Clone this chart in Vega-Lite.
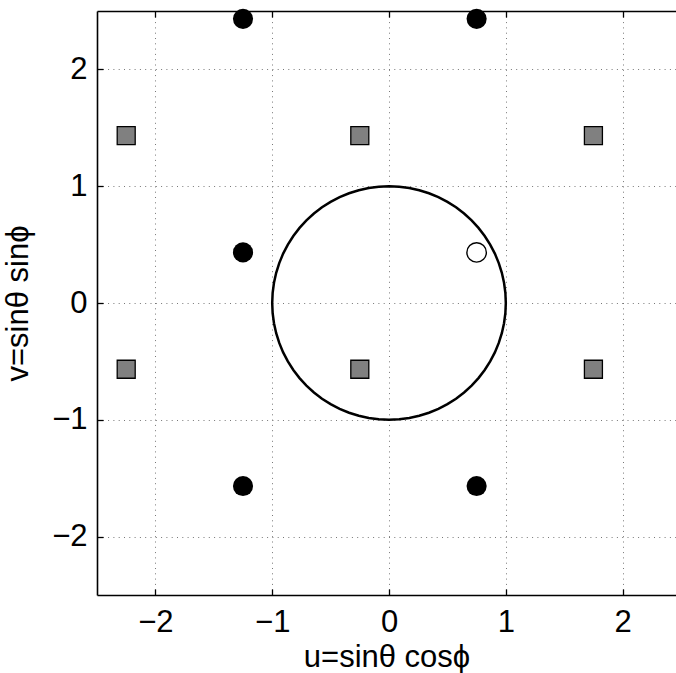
{
  "$schema": "https://vega.github.io/schema/vega-lite/v6.json",
  "width": 579,
  "height": 584,
  "autosize": "none",
  "padding": {"left": 97, "top": 11, "right": 0, "bottom": 78},
  "background": "white",
  "config": {
    "view": {"stroke": null},
    "font": "Liberation Sans",
    "axis": {
      "domainColor": "black",
      "domainWidth": 1.6,
      "tickColor": "black",
      "tickWidth": 1.3,
      "tickSize": -6,
      "labelFont": "Liberation Sans",
      "labelFontSize": 31,
      "labelColor": "black",
      "titleFont": "Liberation Sans",
      "titleFontSize": 31,
      "titleFontWeight": "normal",
      "titleColor": "black",
      "gridColor": "#777777",
      "gridDash": [1, 4.3],
      "gridWidth": 1
    }
  },
  "datasets": {
    "markers": [
      {"u": -1.25, "v": 2.433, "kind": "black"},
      {"u": 0.75, "v": 2.433, "kind": "black"},
      {"u": -1.25, "v": 0.433, "kind": "black"},
      {"u": -1.25, "v": -1.567, "kind": "black"},
      {"u": 0.75, "v": -1.567, "kind": "black"},
      {"u": 0.75, "v": 0.433, "kind": "white"},
      {"u": -2.25, "v": 1.433, "kind": "square"},
      {"u": -0.25, "v": 1.433, "kind": "square"},
      {"u": 1.75, "v": 1.433, "kind": "square"},
      {"u": -2.25, "v": -0.567, "kind": "square"},
      {"u": -0.25, "v": -0.567, "kind": "square"},
      {"u": 1.75, "v": -0.567, "kind": "square"}
    ],
    "circle": [
      {"a": 0, "u": 1, "v": 0},
      {"a": 5, "u": 0.9962, "v": 0.0872},
      {"a": 10, "u": 0.9848, "v": 0.1736},
      {"a": 15, "u": 0.9659, "v": 0.2588},
      {"a": 20, "u": 0.9397, "v": 0.342},
      {"a": 25, "u": 0.9063, "v": 0.4226},
      {"a": 30, "u": 0.866, "v": 0.5},
      {"a": 35, "u": 0.8192, "v": 0.5736},
      {"a": 40, "u": 0.766, "v": 0.6428},
      {"a": 45, "u": 0.7071, "v": 0.7071},
      {"a": 50, "u": 0.6428, "v": 0.766},
      {"a": 55, "u": 0.5736, "v": 0.8192},
      {"a": 60, "u": 0.5, "v": 0.866},
      {"a": 65, "u": 0.4226, "v": 0.9063},
      {"a": 70, "u": 0.342, "v": 0.9397},
      {"a": 75, "u": 0.2588, "v": 0.9659},
      {"a": 80, "u": 0.1736, "v": 0.9848},
      {"a": 85, "u": 0.0872, "v": 0.9962},
      {"a": 90, "u": 0, "v": 1},
      {"a": 95, "u": -0.0872, "v": 0.9962},
      {"a": 100, "u": -0.1736, "v": 0.9848},
      {"a": 105, "u": -0.2588, "v": 0.9659},
      {"a": 110, "u": -0.342, "v": 0.9397},
      {"a": 115, "u": -0.4226, "v": 0.9063},
      {"a": 120, "u": -0.5, "v": 0.866},
      {"a": 125, "u": -0.5736, "v": 0.8192},
      {"a": 130, "u": -0.6428, "v": 0.766},
      {"a": 135, "u": -0.7071, "v": 0.7071},
      {"a": 140, "u": -0.766, "v": 0.6428},
      {"a": 145, "u": -0.8192, "v": 0.5736},
      {"a": 150, "u": -0.866, "v": 0.5},
      {"a": 155, "u": -0.9063, "v": 0.4226},
      {"a": 160, "u": -0.9397, "v": 0.342},
      {"a": 165, "u": -0.9659, "v": 0.2588},
      {"a": 170, "u": -0.9848, "v": 0.1736},
      {"a": 175, "u": -0.9962, "v": 0.0872},
      {"a": 180, "u": -1, "v": 0},
      {"a": 185, "u": -0.9962, "v": -0.0872},
      {"a": 190, "u": -0.9848, "v": -0.1736},
      {"a": 195, "u": -0.9659, "v": -0.2588},
      {"a": 200, "u": -0.9397, "v": -0.342},
      {"a": 205, "u": -0.9063, "v": -0.4226},
      {"a": 210, "u": -0.866, "v": -0.5},
      {"a": 215, "u": -0.8192, "v": -0.5736},
      {"a": 220, "u": -0.766, "v": -0.6428},
      {"a": 225, "u": -0.7071, "v": -0.7071},
      {"a": 230, "u": -0.6428, "v": -0.766},
      {"a": 235, "u": -0.5736, "v": -0.8192},
      {"a": 240, "u": -0.5, "v": -0.866},
      {"a": 245, "u": -0.4226, "v": -0.9063},
      {"a": 250, "u": -0.342, "v": -0.9397},
      {"a": 255, "u": -0.2588, "v": -0.9659},
      {"a": 260, "u": -0.1736, "v": -0.9848},
      {"a": 265, "u": -0.0872, "v": -0.9962},
      {"a": 270, "u": 0, "v": -1},
      {"a": 275, "u": 0.0872, "v": -0.9962},
      {"a": 280, "u": 0.1736, "v": -0.9848},
      {"a": 285, "u": 0.2588, "v": -0.9659},
      {"a": 290, "u": 0.342, "v": -0.9397},
      {"a": 295, "u": 0.4226, "v": -0.9063},
      {"a": 300, "u": 0.5, "v": -0.866},
      {"a": 305, "u": 0.5736, "v": -0.8192},
      {"a": 310, "u": 0.6428, "v": -0.766},
      {"a": 315, "u": 0.7071, "v": -0.7071},
      {"a": 320, "u": 0.766, "v": -0.6428},
      {"a": 325, "u": 0.8192, "v": -0.5736},
      {"a": 330, "u": 0.866, "v": -0.5},
      {"a": 335, "u": 0.9063, "v": -0.4226},
      {"a": 340, "u": 0.9397, "v": -0.342},
      {"a": 345, "u": 0.9659, "v": -0.2588},
      {"a": 350, "u": 0.9848, "v": -0.1736},
      {"a": 355, "u": 0.9962, "v": -0.0872},
      {"a": 360, "u": 1, "v": 0}
    ]
  },
  "resolve": {"axis": {"x": "independent", "y": "independent"}},
  "layer": [
    {
      "data": {"name": "circle"},
      "mark": {"type": "line", "color": "black", "strokeWidth": 2.5, "clip": false},
      "encoding": {
        "x": {"field": "u", "type": "quantitative", "scale": {"domain": [-2.5, 2.457], "nice": false, "zero": false},
          "axis": {"orient": "bottom", "values": [-2, -1, 0, 1, 2], "grid": true, "labelPadding": 18, "title": "u=sinθ cosϕ", "titlePadding": 5}},
        "y": {"field": "v", "type": "quantitative", "scale": {"domain": [-2.5, 2.5], "nice": false, "zero": false},
          "axis": {"orient": "left", "values": [-2, -1, 0, 1, 2], "grid": true, "labelPadding": 16, "title": "v=sinθ sinϕ", "titlePadding": 17}},
        "order": {"field": "a", "type": "quantitative"}
      }
    },
    {
      "data": {"name": "markers"},
      "transform": [{"filter": "datum.kind == 'square'"}],
      "mark": {"type": "point", "shape": "square", "filled": true, "fill": "#808080", "stroke": "black", "strokeWidth": 1.3, "size": 324, "opacity": 1},
      "encoding": {
        "x": {"field": "u", "type": "quantitative", "axis": {"orient": "top", "values": [-2, -1, 0, 1, 2], "grid": false, "labels": false, "title": null}},
        "y": {"field": "v", "type": "quantitative", "axis": null}
      }
    },
    {
      "data": {"name": "markers"},
      "transform": [{"filter": "datum.kind == 'black'"}],
      "mark": {"type": "circle", "color": "black", "size": 405, "opacity": 1},
      "encoding": {
        "x": {"field": "u", "type": "quantitative", "axis": null},
        "y": {"field": "v", "type": "quantitative", "axis": null}
      }
    },
    {
      "data": {"name": "markers"},
      "transform": [{"filter": "datum.kind == 'white'"}],
      "mark": {"type": "point", "shape": "circle", "filled": true, "fill": "white", "stroke": "black", "strokeWidth": 1.4, "size": 380, "opacity": 1},
      "encoding": {
        "x": {"field": "u", "type": "quantitative", "axis": null},
        "y": {"field": "v", "type": "quantitative", "axis": null}
      }
    }
  ]
}
